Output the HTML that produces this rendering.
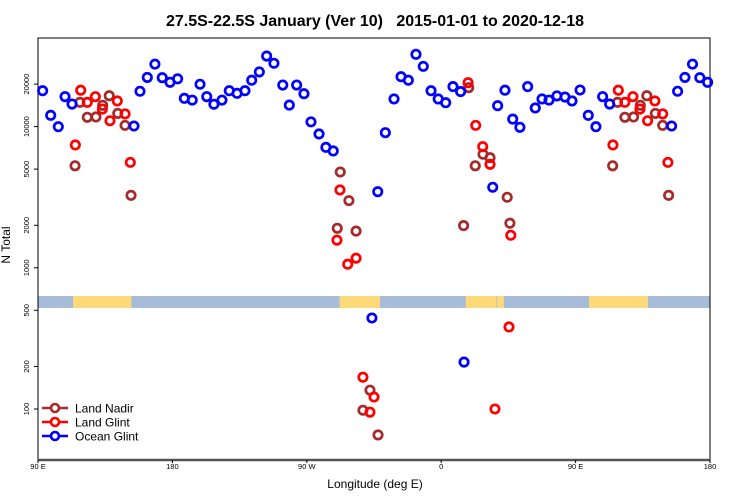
<!DOCTYPE html>
<html><head><meta charset="utf-8"><style>
body{margin:0;background:#fff;}
svg{display:block;font-family:"Liberation Sans",sans-serif;}
</style></head><body>
<svg id="chart" width="750" height="500">
<text x="375" y="26" text-anchor="middle" font-size="16" font-weight="bold">27.5S-22.5S January (Ver 10)&#160;&#160;&#160;2015-01-01 to 2020-12-18</text>
<g id="band"></g>
<g id="axes"></g>
<g id="marks"></g>
<text x="375" y="488" text-anchor="middle" font-size="12">Longitude (deg E)</text>
<text transform="translate(10,245) rotate(-90)" text-anchor="middle" font-size="12">N Total</text>
<g id="legend"></g>
</svg>
<script>
const xTicks=[90,180,270,360,450,540];
const xTickLabels=["90 E","180","90 W","0","90 E","180"];
const yTicks=[100,200,500,1000,2000,5000,10000,20000];
const oceanLon=[93.1,98.5,103.6,108.1,112.8,154.3,158.3,163.2,168.3,173.2,178.4,183.5,188.0,193.3,198.5,203.0,207.8,213.2,218.1,223.3,228.6,233.1,238.2,243.1,248.0,253.9,258.3,263.2,268.1,272.8,278.2,282.8,287.7,317.5,322.6,328.4,333.1,338.0,343.1,348.0,353.2,358.0,363.0,367.9,373.0,394.5,397.8,402.7,407.9,412.7,417.9,423.0,427.5,432.2,437.5,442.9,447.6,453.0,458.5,463.6,468.1,472.8,514.3,518.3,523.2,528.3,533.2,538.4,313.6,375.3];
const oceanN=[17950,12020,9980,16300,14450,10100,17800,22300,27700,22200,20600,21800,15850,15400,19950,16300,14400,15400,17950,17200,17950,21300,24400,31600,28100,19700,14200,19700,17100,10800,8870,7130,6720,3460,9060,15700,22550,21300,32500,26700,17950,15700,14760,19200,17700,3720,14060,18100,11300,9890,19200,13550,15700,15400,16500,16200,15200,18160,12020,9980,16300,14450,10100,17800,22300,27700,22200,20600,441,215];
const nadirLon=[118.1,114.8,123.0,128.8,133.3,137.7,143.4,148.3,152.3,478.1,474.8,483.0,488.8,493.3,497.7,503.4,508.3,512.3,292.4,298.2,290.4,303.0,378.4,388.0,392.7,382.8,404.2,375.0,406.0,307.6,312.3,317.7];
const nadirN=[14860,5280,11640,11700,14160,16550,12400,10200,3260,14860,5280,11640,11700,14160,16550,12400,10200,3260,4770,2990,1905,1820,18870,6370,6020,5280,3160,1990,2070,98,136,65.5];
const glintLon=[118.6,115.0,123.0,128.4,133.1,138.2,143.1,148.3,151.8,478.6,475.0,483.0,488.4,493.1,498.2,503.1,508.3,511.8,378.0,383.1,387.8,392.7,292.2,290.2,297.4,303.0,406.6,307.6,315.0,312.3,405.4,396.0];
const glintN=[18100,7410,14860,16300,13300,11000,15200,12300,5580,18100,7410,14860,16300,13300,11000,15200,12300,5580,20470,10200,7210,5410,3560,1570,1060,1170,1700,168,121.6,95,381,100];
const landStart=[113.5,292,376.5,397.5,459];
const landEnd=[152.5,319,397,402,498.5];
const L=38,R=710,T=38,B=460;
const xs=v=>L+(v-90)/(450)*(R-L);
const ys=v=>409-(Math.log10(v)-2)*141.2;
const NS="http://www.w3.org/2000/svg";
function mk(tag,attrs,parent){const e=document.createElementNS(NS,tag);for(const k in attrs)e.setAttribute(k,attrs[k]);parent.appendChild(e);return e;}
const axes=document.getElementById('axes'),marks=document.getElementById('marks'),band=document.getElementById('band'),legend=document.getElementById('legend');
let bg=mk('rect',{x:L,y:296,width:R-L,height:12,fill:'#a7bcd9'},band);


for(let i=0;i<landStart.length;i++){
 const r=mk('rect',{x:xs(landStart[i]),y:296,width:xs(landEnd[i])-xs(landStart[i]),height:12,fill:'#fdd97a'},band);
 
 
}
let fr=mk('path',{d:`M${L},${B}V${T}H${R}V${B}`,fill:'none',stroke:'#000','stroke-width':1},axes);


let xa=mk('line',{x1:L,x2:R,y1:B,y2:B,stroke:'#555','stroke-width':2.5},axes);


xTicks.forEach((t,i)=>{
 const x=xs(t);
 mk('line',{x1:x,x2:x,y1:B,y2:B+3,stroke:'#000'},axes);
 const tx=mk('text',{x:x,y:B+9,'text-anchor':'middle','font-size':7.5},axes);
 tx.textContent=xTickLabels[i];
 
 
});
yTicks.forEach(t=>{
 const y=ys(t);
 mk('line',{x1:L-4,x2:L,y1:y,y2:y,stroke:'#000'},axes);
 const tx=mk('text',{transform:`translate(29,${y}) rotate(-90)`,'text-anchor':'middle','font-size':7.5},axes);
 tx.textContent=t;
 
 
});
function series(lon,n,color,name){
 for(let i=0;i<lon.length;i++){
  const c=mk('circle',{cx:xs(lon[i]),cy:ys(n[i]),r:4.2,fill:'none',stroke:color,'stroke-width':2.7},marks);
  
  
 }
}
series(nadirLon,nadirN,'#a52a2a','land-nadir');
series(glintLon,glintN,'#ff0000','land-glint');
series(oceanLon,oceanN,'#0000ff','ocean-glint');
[['Land Nadir','#a52a2a',408],['Land Glint','#ff0000',422],['Ocean Glint','#0000ff',436]].forEach(e=>{
 const g=mk('g',{},legend);
 
 
 mk('line',{x1:42,x2:68,y1:e[2],y2:e[2],stroke:e[1],'stroke-width':2.6},g);
 mk('circle',{cx:55,cy:e[2],r:4,fill:'#fff',stroke:e[1],'stroke-width':2.6},g);
 const t=mk('text',{x:75,y:e[2]+4.5,'font-size':12},g);
 t.textContent=e[0];
});
</script>
</body></html>
